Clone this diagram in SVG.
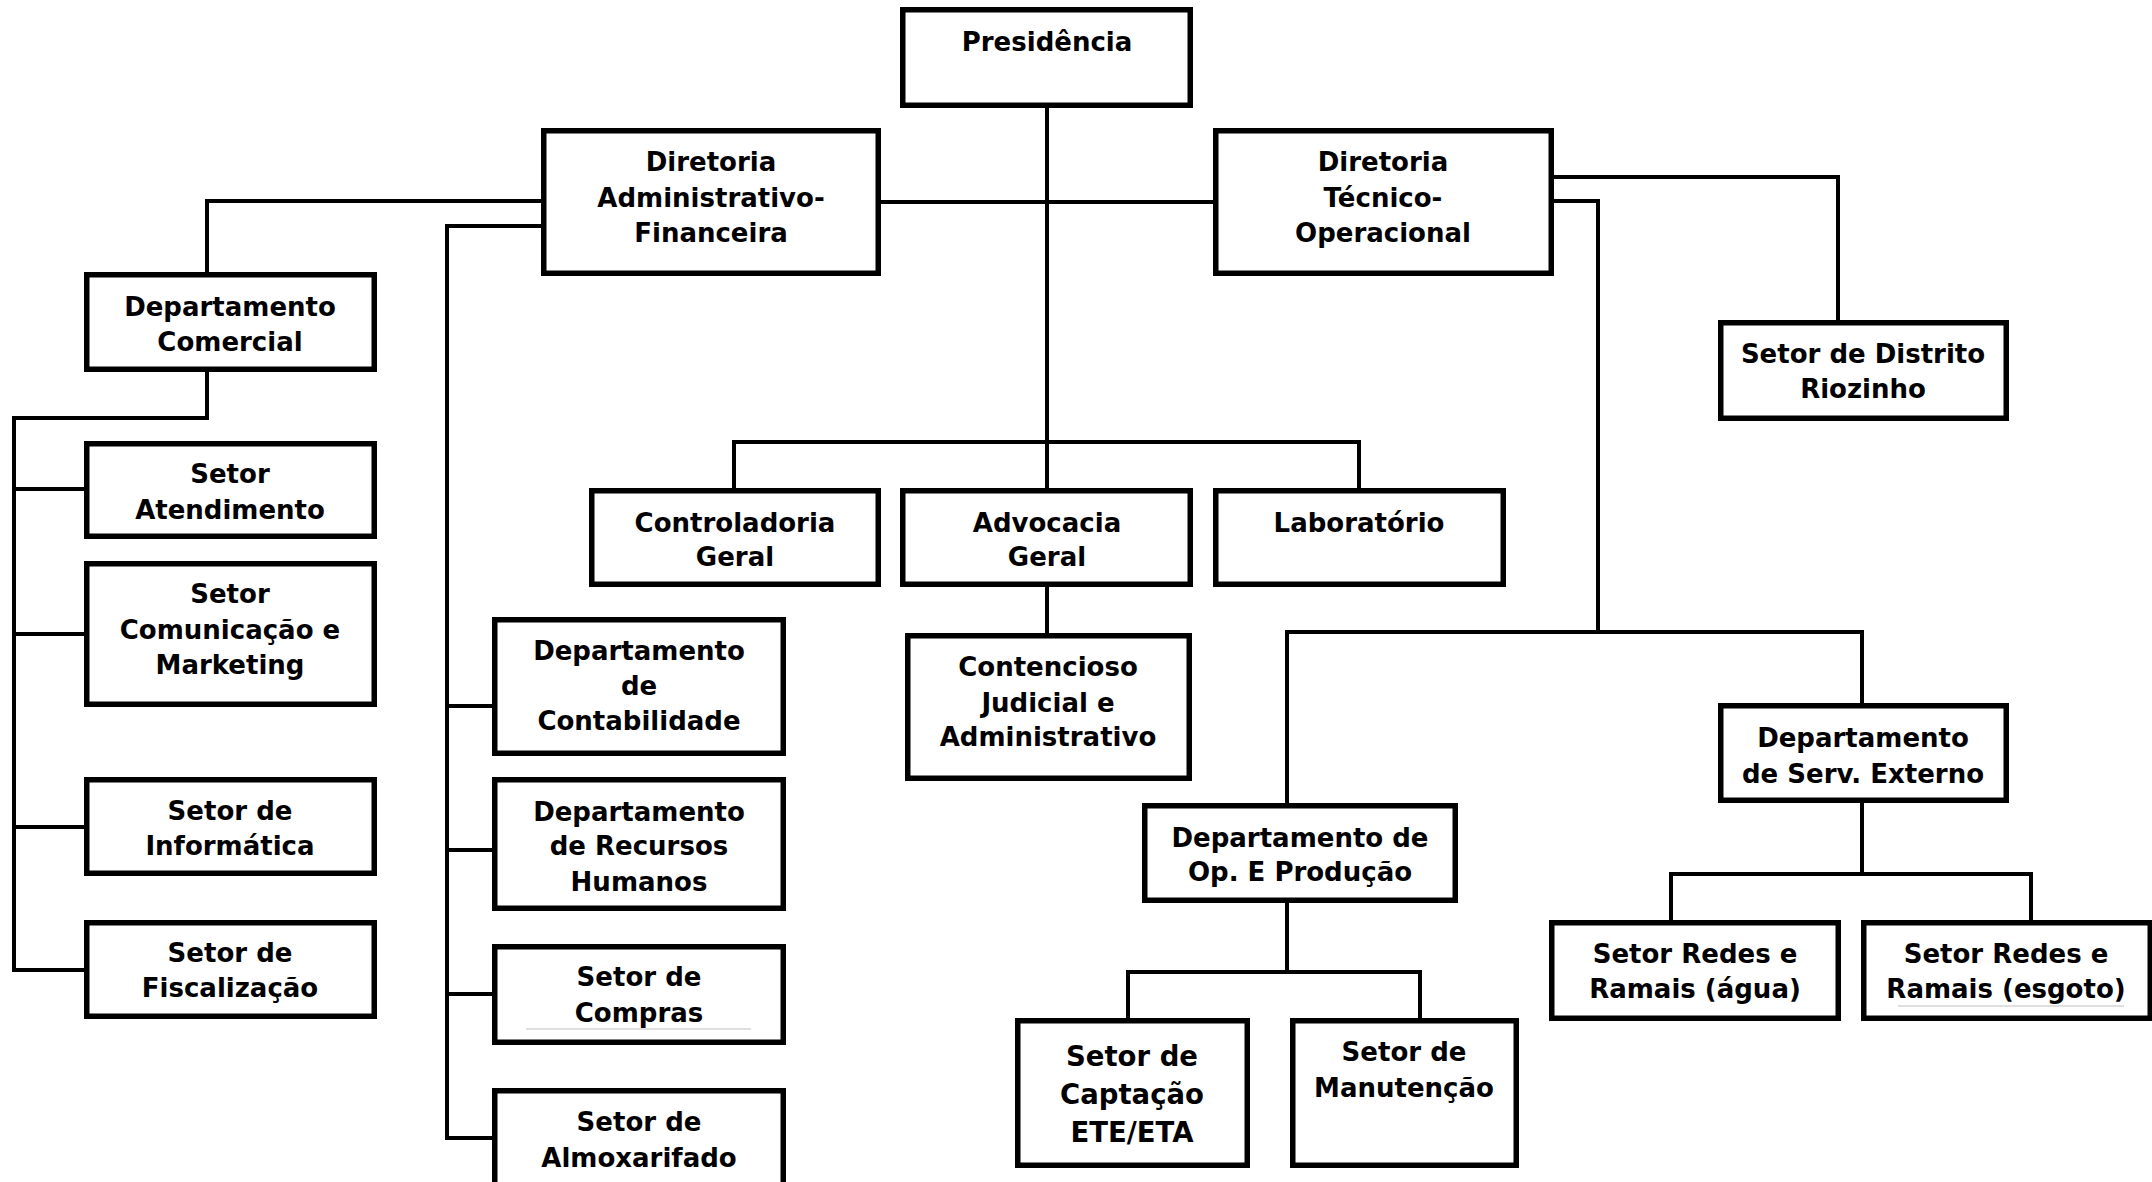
<svg xmlns="http://www.w3.org/2000/svg" width="2152" height="1182" viewBox="0 0 2152 1182">
<style>
.box{fill:#fff;stroke:#000;stroke-width:5.5}
.t{font-family:"DejaVu Sans",Verdana,sans-serif;font-weight:bold;font-size:26px;fill:#000;text-anchor:middle}
.big{font-size:27.5px}
.c{fill:none;stroke:#000;stroke-width:4;stroke-linecap:square}
.u{stroke:#d4d4d4;stroke-width:1.5}
</style>
<rect width="2152" height="1182" fill="#fff"/>
<g id="connectors">
<path class="c" d="M1047,108 V488"/>
<path class="c" d="M881,202 H1213"/>
<path class="c" d="M541,201 H207 V272"/>
<path class="c" d="M541,226 H447 V1138 H492"/>
<path class="c" d="M447,706 H492 M447,850 H492 M447,994 H492"/>
<path class="c" d="M207,372 V418 H14 V970 H84"/>
<path class="c" d="M14,489 H84 M14,634 H84 M14,827 H84"/>
<path class="c" d="M734,488 V442 H1359 V488"/>
<path class="c" d="M1047,587 V633"/>
<path class="c" d="M1554,177 H1838 V320"/>
<path class="c" d="M1554,201 H1598 V632"/>
<path class="c" d="M1287,632 H1862"/>
<path class="c" d="M1287,632 V803 M1862,632 V703"/>
<path class="c" d="M1287,903 V972"/>
<path class="c" d="M1128,1018 V972 H1420 V1018"/>
<path class="c" d="M1862,803 V874"/>
<path class="c" d="M1671,920 V874 H2031 V920"/>
</g>
<g id="presidencia"><rect class="box" x="902.75" y="9.75" width="287.5" height="95.5"/><text class="t" x="1047" y="51">Presidência</text></g>
<g id="dir-adm-fin"><rect class="box" x="543.75" y="130.75" width="334.5" height="142.5"/><text class="t" x="711" y="171">Diretoria</text><text class="t" x="711" y="207">Administrativo-</text><text class="t" x="711" y="242">Financeira</text></g>
<g id="dir-tec-op"><rect class="box" x="1215.75" y="130.75" width="335.5" height="142.5"/><text class="t" x="1383" y="171">Diretoria</text><text class="t" x="1383" y="207">Técnico-</text><text class="t" x="1383" y="242">Operacional</text></g>
<g id="dept-comercial"><rect class="box" x="86.75" y="274.75" width="287.5" height="94.5"/><text class="t" x="230" y="316">Departamento</text><text class="t" x="230" y="351">Comercial</text></g>
<g id="setor-atendimento"><rect class="box" x="86.75" y="443.75" width="287.5" height="92.5"/><text class="t" x="230" y="483">Setor</text><text class="t" x="230" y="519">Atendimento</text></g>
<g id="setor-comunicacao"><rect class="box" x="86.75" y="563.75" width="287.5" height="140.5"/><text class="t" x="230" y="603">Setor</text><text class="t" x="230" y="639">Comunicação e</text><text class="t" x="230" y="674">Marketing</text></g>
<g id="setor-informatica"><rect class="box" x="86.75" y="779.75" width="287.5" height="93.5"/><text class="t" x="230" y="820">Setor de</text><text class="t" x="230" y="855">Informática</text></g>
<g id="setor-fiscalizacao"><rect class="box" x="86.75" y="922.75" width="287.5" height="93.5"/><text class="t" x="230" y="962">Setor de</text><text class="t" x="230" y="997">Fiscalização</text></g>
<g id="dept-contabilidade"><rect class="box" x="494.75" y="619.75" width="288.5" height="133.5"/><text class="t" x="639" y="660">Departamento</text><text class="t" x="639" y="695">de</text><text class="t" x="639" y="730">Contabilidade</text></g>
<g id="dept-rh"><rect class="box" x="494.75" y="779.75" width="288.5" height="128.5"/><text class="t" x="639" y="821">Departamento</text><text class="t" x="639" y="855">de Recursos</text><text class="t" x="639" y="891">Humanos</text></g>
<g id="setor-compras"><rect class="box" x="494.75" y="946.75" width="288.5" height="95.5"/><text class="t" x="639" y="986">Setor de</text><text class="t" x="639" y="1022">Compras</text><line class="u" x1="526" y1="1029" x2="751" y2="1029"/></g>
<g id="setor-almoxarifado"><rect class="box" x="494.75" y="1090.75" width="288.5" height="120"/><text class="t" x="639" y="1131">Setor de</text><text class="t" x="639" y="1167">Almoxarifado</text></g>
<g id="controladoria"><rect class="box" x="591.75" y="490.75" width="286.5" height="93.5"/><text class="t" x="735" y="532">Controladoria</text><text class="t" x="735" y="566">Geral</text></g>
<g id="advocacia"><rect class="box" x="902.75" y="490.75" width="287.5" height="93.5"/><text class="t" x="1047" y="532">Advocacia</text><text class="t" x="1047" y="566">Geral</text></g>
<g id="laboratorio"><rect class="box" x="1215.75" y="490.75" width="287.5" height="93.5"/><text class="t" x="1359" y="532">Laboratório</text></g>
<g id="contencioso"><rect class="box" x="907.75" y="635.75" width="281.5" height="142.5"/><text class="t" x="1048" y="676">Contencioso</text><text class="t" x="1048" y="712">Judicial e</text><text class="t" x="1048" y="746">Administrativo</text></g>
<g id="setor-distrito-riozinho"><rect class="box" x="1720.75" y="322.75" width="285.5" height="95.5"/><text class="t" x="1863" y="363">Setor de Distrito</text><text class="t" x="1863" y="398">Riozinho</text></g>
<g id="dept-serv-externo"><rect class="box" x="1720.75" y="705.75" width="285.5" height="94.5"/><text class="t" x="1863" y="747">Departamento</text><text class="t" x="1863" y="783">de Serv. Externo</text></g>
<g id="dept-op-producao"><rect class="box" x="1144.75" y="805.75" width="310.5" height="94.5"/><text class="t" x="1300" y="847">Departamento de</text><text class="t" x="1300" y="881">Op. E Produção</text></g>
<g id="setor-captacao"><rect class="box" x="1017.75" y="1020.75" width="229.5" height="144.5"/><text class="t big" x="1132" y="1066">Setor de</text><text class="t big" x="1132" y="1104">Captação</text><text class="t big" x="1132" y="1142">ETE/ETA</text></g>
<g id="setor-manutencao"><rect class="box" x="1292.75" y="1020.75" width="223.5" height="144.5"/><text class="t" x="1404" y="1061">Setor de</text><text class="t" x="1404" y="1097">Manutenção</text></g>
<g id="setor-redes-agua"><rect class="box" x="1551.75" y="922.75" width="286.5" height="95.5"/><text class="t" x="1695" y="963">Setor Redes e</text><text class="t" x="1695" y="998">Ramais (água)</text></g>
<g id="setor-redes-esgoto"><rect class="box" x="1863.75" y="922.75" width="286.5" height="95.5"/><text class="t" x="2006" y="963">Setor Redes e</text><text class="t" x="2006" y="998">Ramais (esgoto)</text><line class="u" x1="1898" y1="1006" x2="2124" y2="1006"/></g>
</svg>
